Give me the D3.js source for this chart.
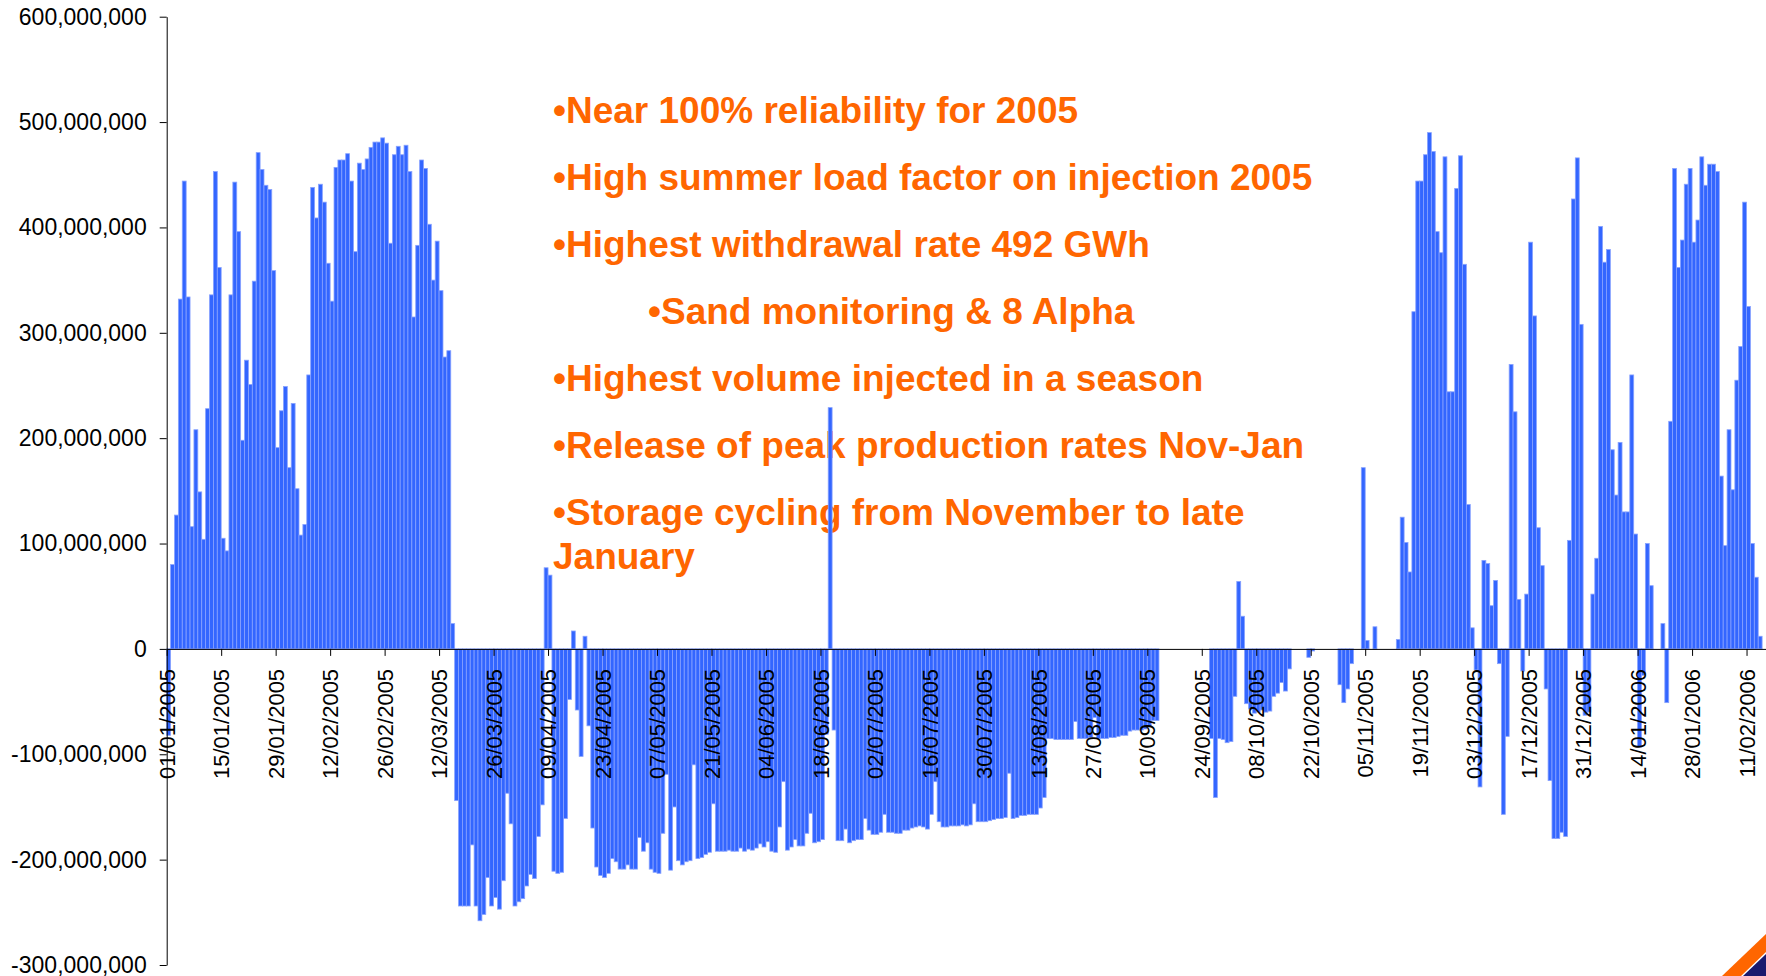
<!DOCTYPE html>
<html>
<head>
<meta charset="utf-8">
<script src="https://d3js.org/d3.v7.min.js"></script>
<style>
    body {
        margin: 0;
        background: #ffffff;
    }

    svg {
        display: block;
        font-family: "Liberation Sans", Arial, sans-serif;
    }

    .axis path,
    .axis line {
        stroke: #000;
    }

    .note {
        fill: #ff6600;
        font-weight: bold;
        font-size: 37px;
    }
</style>
</head>
<body>
<script>

    // ==== DATA ==== //
    // one value per day from startDate, in millions (null = no flow that day)
    var startDate = "2005-01-01";
    var axisEndDate = "2006-02-16";
    var tickStepDays = 14;
    var yTicks = [-300, -200, -100, 0, 100, 200, 300, 400, 500, 600];

    var flow = [
        -82, 80, 127, 332, 444, 334, 116, 208, 149, 104, 228, 336, 453, 362,
        105, 93, 336, 443, 396, 198, 274, 251, 349, 471, 455, 440, 436, 359,
        191, 226, 249, 172, 233, 152, 108, 118, 260, 438, 409, 441, 424, 366,
        330, 457, 464, 464, 470, 444, 377, 461, 455, 465, 476, 481, 481, 485,
        480, 385, 469, 477, 469, 478, 453, 315, 383, 464, 456, 403, 350, 387,
        340, 277, 283, 24, -144, -244, -244, -244, -186, -244, -258, -252, -217, -244,
        -236, -247, -220, -137, -166, -244, -240, -237, -225, -214, -218, -178, -148, 77,
        70, -211, -213, -212, -161, -48, 17, -58, -102, 12, -73, -170, -207, -215,
        -217, -213, -199, -202, -209, -209, -205, -209, -209, -179, -192, -184, -209, -212,
        -213, -175, -119, -210, -150, -201, -205, -202, -201, -110, -199, -198, -195, -193,
        -147, -192, -192, -192, -191, -192, -192, -189, -192, -190, -191, -189, -185, -188,
        -183, -192, -193, -169, -126, -191, -188, -181, -187, -187, -175, -156, -184, -183,
        -181, -81, 229, -77, -182, -182, -171, -184, -182, -181, -181, -161, -172, -176,
        -176, -174, -157, -174, -174, -175, -175, -172, -172, -170, -169, -168, -169, -171,
        -157, -126, -164, -169, -169, -168, -168, -168, -167, -168, -167, -147, -164, -164,
        -164, -163, -162, -161, -161, -160, -118, -161, -160, -158, -158, -157, -157, -157,
        -151, -141, -85, -85, -86, -86, -86, -86, -86, -69, -85, -85, -85, -84,
        -65, -85, -85, -85, -84, -84, -83, -82, -82, -78, -77, -77, -77, -76,
        -74, -68, -68, null, null, null, null, null, null, null, null, null, null, null,
        null, null, -85, -141, -85, -86, -89, -88, -45, 64, 31, -52, -57, -61,
        -60, -58, -60, -59, -45, -42, -32, -40, -19, null, null, null, null, -8,
        -2, null, null, null, null, null, null, -34, -51, -38, -14, null, null, 172,
        8, null, 21, null, null, null, null, null, 9, 125, 101, 73, 320, 444,
        444, 469, 490, 472, 396, 376, 467, 244, 244, 437, 468, 365, 137, 20,
        -20, -131, 84, 81, 41, 65, -14, -157, -83, 270, 225, 47, -21, 52,
        386, 316, 115, 79, -38, -125, -180, -180, -174, -178, 103, 427, 466, 308,
        -63, -60, 52, 86, 401, 367, 379, 189, 146, 196, 130, 130, 260, 109,
        -93, -25, 100, 60, null, null, 24, -51, 216, 456, 362, 388, 441, 456,
        386, 407, 467, 440, 460, 460, 453, 164, 98, 208, 151, 255, 287, 424,
        325, 100, 68, 12
    ];

    var notes = [
        { text: "•Near 100% reliability for 2005", level: 0 },
        { text: "•High summer load factor on injection 2005", level: 0 },
        { text: "•Highest withdrawal rate 492 GWh", level: 0 },
        { text: "•Sand monitoring & 8 Alpha", level: 1 },
        { text: "•Highest volume injected in a season", level: 0 },
        { text: "•Release of peak production rates Nov-Jan", level: 0 },
        { text: "•Storage cycling from November to late\nJanuary", level: 0 }
    ];

    // ==== LAYOUT ==== //
    var width = 1766, height = 976;
    var plotLeft = 166.7, plotRight = 1766, plotTop = 16.7, plotBottom = 965;

    var svg = d3.select("body").append("svg")
        .attr("width", width)
        .attr("height", height);

    var start = new Date(startDate + "T00:00:00Z");

    var xScale = d3.scaleUtc()
        .domain([start, new Date(axisEndDate + "T00:00:00Z")])
        .range([plotLeft, plotRight]);

    var yScale = d3.scaleLinear()
        .domain([-300, 600])
        .range([plotBottom, plotTop]);

    var dayW = xScale(d3.utcDay.offset(start, 1)) - xScale(start);

    var data = flow.map(function (v, i) {
        return { date: d3.utcDay.offset(start, i), value: v };
    }).filter(function (d) { return d.value !== null; });

    // notes sit under the bars
    var noteG = svg.append("g");
    notes.forEach(function (n, i) {
        var t = noteG.append("text")
            .attr("class", "note")
            .attr("x", n.level ? 648 : 553)
            .attr("y", 123 + i * 67);
        n.text.split("\n").forEach(function (line, j) {
            t.append("tspan")
                .attr("x", n.level ? 648 : 553)
                .attr("dy", j ? 44 : 0)
                .text(line);
        });
    });

    // bars
    svg.append("g")
        .selectAll("rect")
        .data(data)
        .enter().append("rect")
        .attr("x", function (d) { return xScale(d.date); })
        .attr("width", dayW)
        .attr("y", function (d) { return yScale(Math.max(0, d.value)); })
        .attr("height", function (d) { return Math.abs(yScale(d.value) - yScale(0)); })
        .style("fill", "#3366ff")
        .style("stroke", "#88a2ff")
        .style("stroke-width", 0.8);

    // y axis
    var fmt = d3.format(",");
    var yAxis = d3.axisLeft(yScale)
        .tickValues(yTicks)
        .tickSize(7)
        .tickSizeOuter(0)
        .tickPadding(13)
        .tickFormat(function (v) { return fmt(v * 1e6).replace("\u2212", "-"); });

    svg.append("g")
        .attr("class", "y axis")
        .attr("transform", "translate(" + plotLeft + ",0)")
        .call(yAxis)
        .selectAll("text")
        .style("font-size", "23px")
        .style("fill", "#000");

    // x axis on the zero line
    var tickDates = d3.range(0, flow.length, tickStepDays).map(function (k) {
        return d3.utcDay.offset(start, k);
    });

    var xAxis = d3.axisBottom(xScale)
        .tickValues(tickDates)
        .tickSize(7)
        .tickSizeOuter(0)
        .tickFormat(d3.utcFormat("%d/%m/%Y"));

    svg.append("g")
        .attr("class", "x axis")
        .attr("transform", "translate(0," + yScale(0) + ")")
        .call(xAxis)
        .selectAll("text")
        .attr("transform", "rotate(-90)")
        .attr("x", -20)
        .attr("y", 0)
        .attr("dy", ".35em")
        .style("text-anchor", "end")
        .style("font-size", "22px")
        .style("fill", "#000");

    // slide corner decoration
    svg.append("path")
        .attr("d", "M1722,976 L1766,934 L1766,952 L1741,976 Z")
        .style("fill", "#ff6600");
    svg.append("path")
        .attr("d", "M1743,976 L1766,954 L1766,976 Z")
        .style("fill", "#1a1a6e");

</script>
</body>
</html>
